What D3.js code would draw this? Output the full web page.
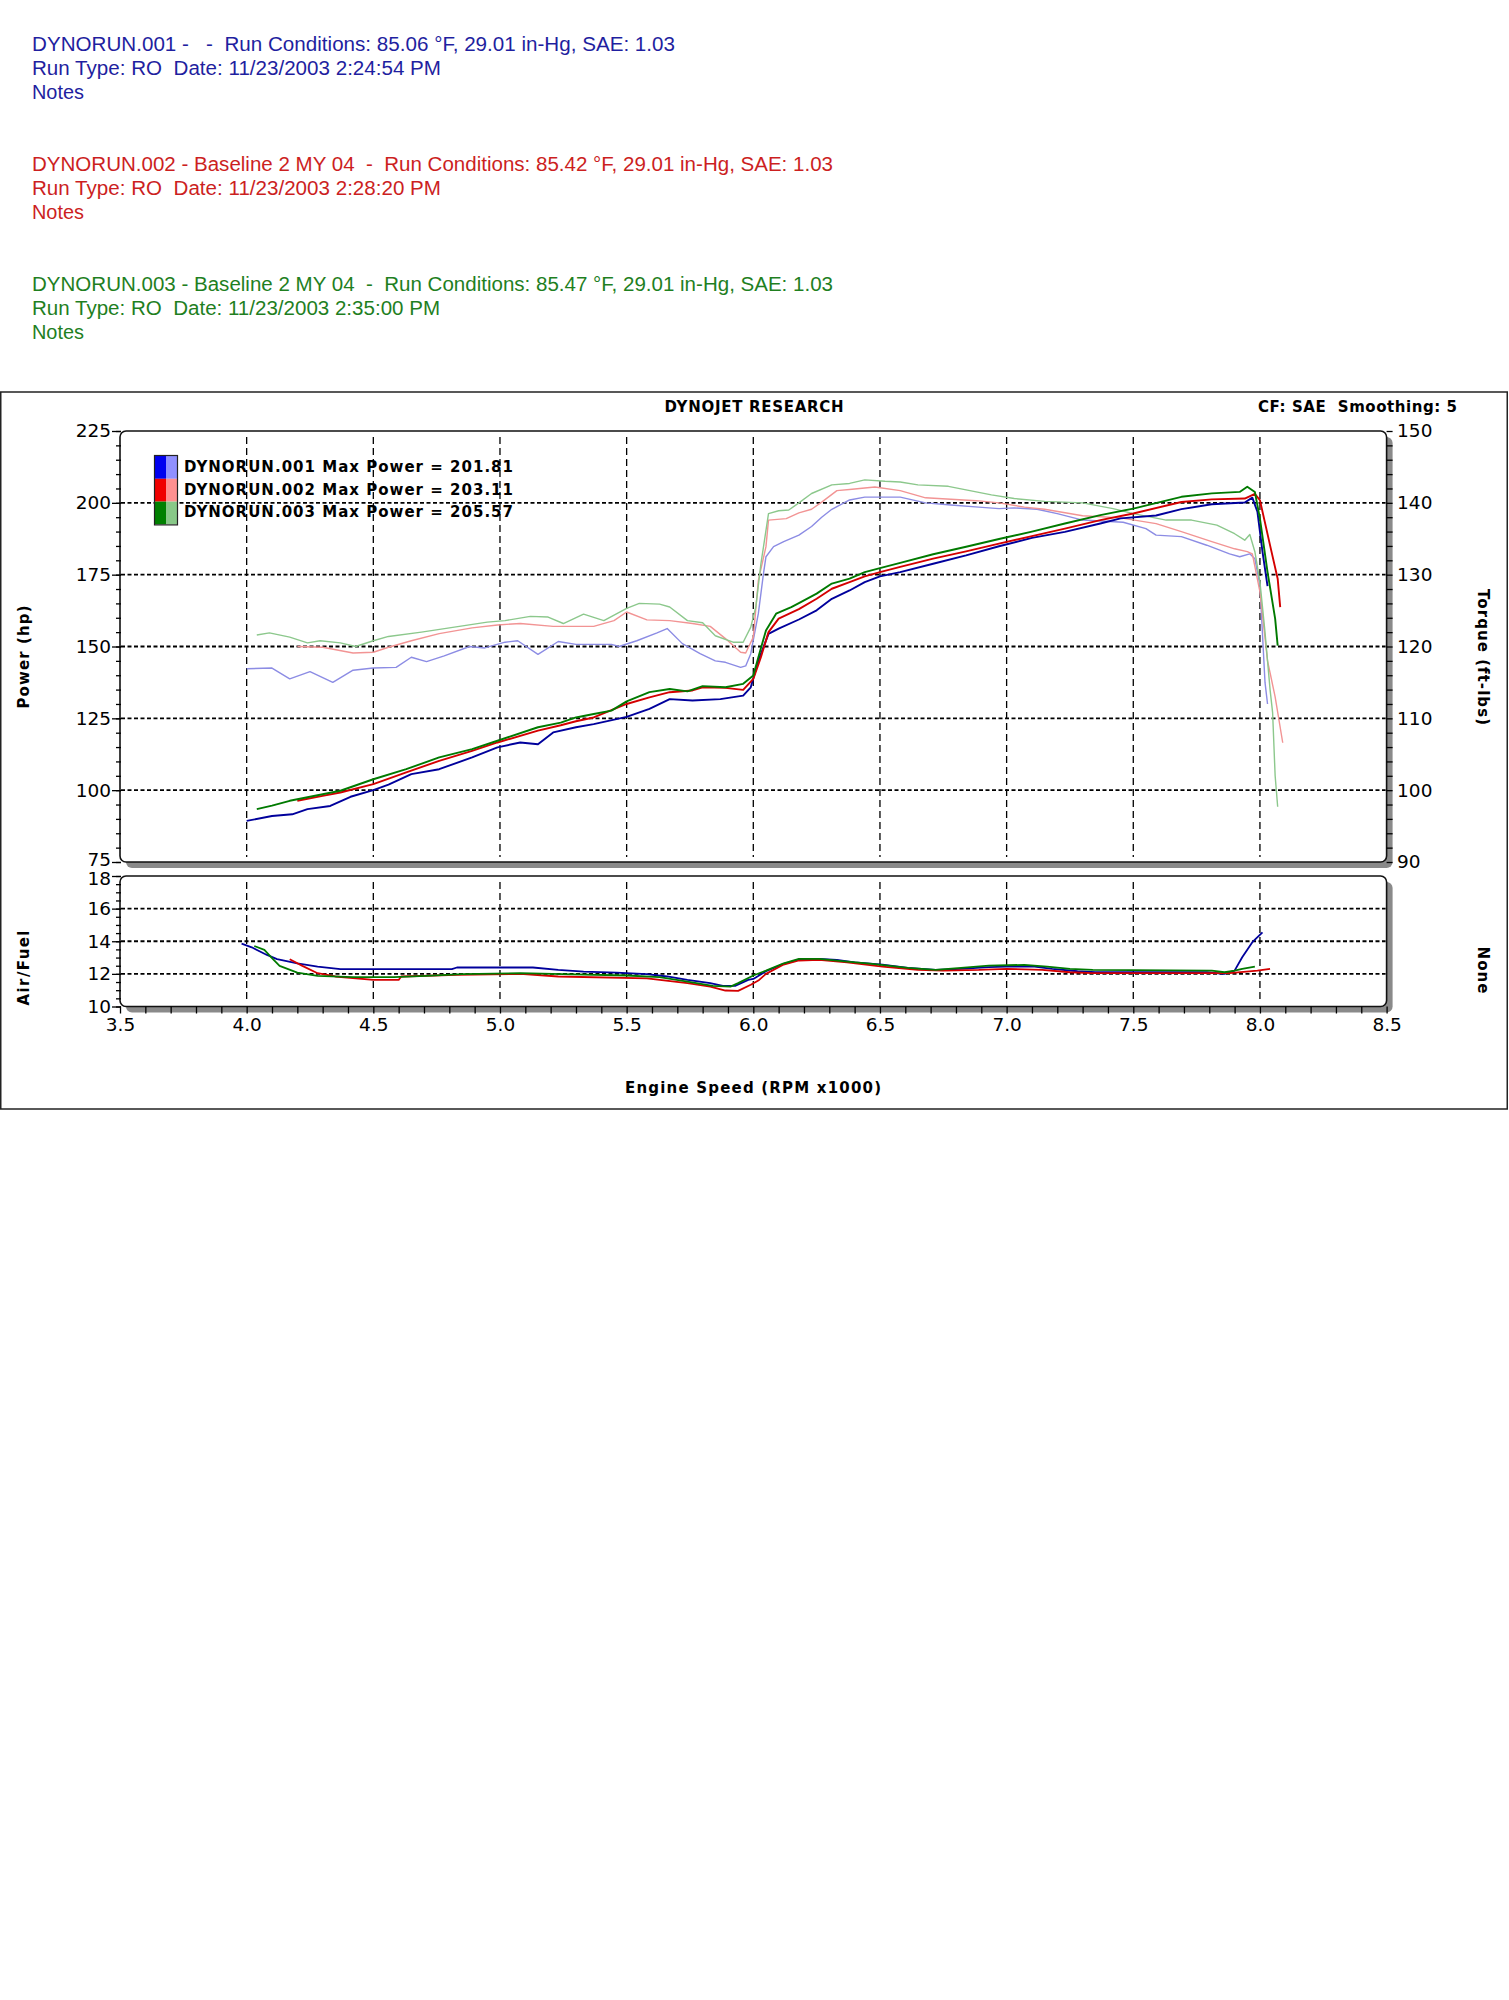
<!DOCTYPE html>
<html>
<head>
<meta charset="utf-8">
<script src="https://cdn.jsdelivr.net/npm/d3@7"></script>
<style>
  body { margin: 0; background: #fff; }
  svg text { white-space: pre; }
</style>
</head>
<body>
<script>
// run data: [rpm x1000, value]
const runNames = ['DYNORUN.001', 'DYNORUN.002', 'DYNORUN.003'];
const maxPower = ['201.81', '203.11', '205.57'];

const headerLines = [
  ['DYNORUN.001 -   -  Run Conditions: 85.06 °F, 29.01 in-Hg, SAE: 1.03', 'Run Type: RO  Date: 11/23/2003 2:24:54 PM', 'Notes'],
  ['DYNORUN.002 - Baseline 2 MY 04  -  Run Conditions: 85.42 °F, 29.01 in-Hg, SAE: 1.03', 'Run Type: RO  Date: 11/23/2003 2:28:20 PM', 'Notes'],
  ['DYNORUN.003 - Baseline 2 MY 04  -  Run Conditions: 85.47 °F, 29.01 in-Hg, SAE: 1.03', 'Run Type: RO  Date: 11/23/2003 2:35:00 PM', 'Notes'],
];

const rpmTicks = [3.5, 4.0, 4.5, 5.0, 5.5, 6.0, 6.5, 7.0, 7.5, 8.0, 8.5];
const powerTicks = [75, 100, 125, 150, 175, 200, 225];
const torqueTicks = [90, 100, 110, 120, 130, 140, 150];
const afrTicks = [10, 12, 14, 16, 18];

const run1Power = [[4.00,89.3],[4.10,91.0],[4.18,91.6],[4.24,93.4],[4.33,94.5],[4.41,97.7],[4.50,100.0],[4.56,101.9],[4.65,105.6],[4.76,107.3],[4.89,111.4],[4.99,114.9],[5.08,116.6],[5.15,116.0],[5.21,120.1],[5.30,121.9],[5.37,123.0],[5.50,125.5],[5.59,128.3],[5.67,131.7],[5.76,131.2],[5.87,131.7],[5.96,132.9],[5.99,135.8],[6.02,145.1],[6.06,154.4],[6.10,156.2],[6.18,159.4],[6.25,162.6],[6.31,166.6],[6.38,169.5],[6.44,172.4],[6.50,174.4],[6.58,175.9],[6.71,178.8],[6.84,181.7],[6.97,184.9],[7.10,187.8],[7.23,189.9],[7.37,192.8],[7.45,194.6],[7.59,195.6],[7.69,197.8],[7.81,199.5],[7.94,200.1],[7.97,201.8],[7.99,196.9],[8.01,183.0],[8.03,171.0]];
const run2Power = [[4.20,96.3],[4.30,98.0],[4.37,99.2],[4.50,102.1],[4.63,106.2],[4.76,110.2],[4.89,113.7],[4.99,116.6],[5.15,120.7],[5.24,122.6],[5.30,124.0],[5.37,125.3],[5.50,130.0],[5.59,132.3],[5.67,134.1],[5.76,134.7],[5.80,135.8],[5.89,135.6],[5.96,134.9],[6.00,138.7],[6.03,146.3],[6.06,155.0],[6.10,159.7],[6.18,163.0],[6.25,166.6],[6.31,170.1],[6.38,172.4],[6.44,174.4],[6.50,175.9],[6.58,177.7],[6.71,180.6],[6.84,183.1],[6.97,185.8],[7.10,188.4],[7.23,191.0],[7.37,194.0],[7.50,196.3],[7.69,200.3],[7.81,201.2],[7.94,201.5],[7.98,203.1],[8.00,200.9],[8.04,185.2],[8.07,173.6],[8.08,163.7]];
const run3Power = [[4.04,93.4],[4.10,94.6],[4.17,96.3],[4.37,99.8],[4.50,103.8],[4.63,107.3],[4.76,111.4],[4.89,114.3],[4.99,117.2],[5.15,121.9],[5.24,123.5],[5.30,125.3],[5.37,126.5],[5.44,127.7],[5.50,130.9],[5.59,134.1],[5.67,135.2],[5.74,134.4],[5.80,136.2],[5.89,135.8],[5.96,137.0],[6.00,139.9],[6.02,146.3],[6.05,155.6],[6.09,161.4],[6.15,163.7],[6.18,165.1],[6.25,168.4],[6.31,171.9],[6.38,173.6],[6.44,175.9],[6.50,177.3],[6.58,179.1],[6.71,182.1],[6.84,184.7],[6.97,187.4],[7.10,190.0],[7.23,192.8],[7.37,195.7],[7.50,198.0],[7.69,202.1],[7.81,203.3],[7.92,203.8],[7.95,205.6],[7.98,203.8],[8.00,194.5],[8.03,175.9],[8.06,159.7],[8.07,150.3]];

const run1Torque = [[4.00,116.9],[4.10,117.0],[4.17,115.5],[4.25,116.5],[4.34,115.0],[4.42,116.7],[4.50,117.0],[4.59,117.1],[4.65,118.5],[4.71,117.9],[4.78,118.7],[4.88,120.0],[4.94,119.8],[5.02,120.6],[5.07,120.8],[5.15,118.9],[5.23,120.7],[5.30,120.3],[5.44,120.3],[5.47,120.0],[5.54,120.8],[5.62,121.9],[5.66,122.5],[5.72,120.4],[5.79,119.0],[5.85,118.0],[5.89,117.8],[5.95,117.1],[5.97,117.3],[5.99,119.0],[6.02,124.6],[6.04,130.1],[6.05,132.5],[6.08,133.9],[6.12,134.6],[6.18,135.5],[6.23,136.7],[6.27,138.0],[6.31,139.1],[6.38,140.4],[6.44,140.8],[6.58,140.8],[6.68,140.0],[6.78,139.7],[6.89,139.4],[6.97,139.2],[7.03,139.3],[7.12,139.1],[7.20,138.5],[7.30,137.6],[7.46,137.3],[7.55,136.4],[7.59,135.5],[7.69,135.3],[7.79,134.1],[7.88,132.9],[7.92,132.5],[7.96,132.9],[7.98,132.2],[8.00,128.5],[8.02,115.0],[8.03,112.0]];
const run2Torque = [[4.20,120.0],[4.30,119.9],[4.42,119.1],[4.50,119.2],[4.56,119.9],[4.65,120.8],[4.76,121.8],[4.89,122.6],[4.99,123.0],[5.08,123.2],[5.21,122.8],[5.30,122.8],[5.37,122.8],[5.45,123.6],[5.50,124.8],[5.58,123.7],[5.67,123.6],[5.76,123.2],[5.83,122.8],[5.89,121.1],[5.95,119.2],[5.97,119.1],[6.00,121.3],[6.02,129.2],[6.05,133.9],[6.06,137.6],[6.13,137.8],[6.18,138.6],[6.23,139.1],[6.27,140.1],[6.33,141.7],[6.39,141.9],[6.48,142.2],[6.58,141.7],[6.68,140.7],[6.78,140.5],[6.88,140.3],[6.97,140.0],[7.07,139.4],[7.15,139.1],[7.30,138.2],[7.45,137.9],[7.59,137.1],[7.69,136.0],[7.81,134.6],[7.90,133.6],[7.95,133.2],[7.97,132.9],[8.00,127.6],[8.03,118.0],[8.06,113.0],[8.09,106.6]];
const run3Torque = [[4.04,121.6],[4.09,121.9],[4.17,121.3],[4.24,120.5],[4.29,120.8],[4.37,120.5],[4.43,120.0],[4.50,120.8],[4.56,121.4],[4.69,122.0],[4.82,122.7],[4.95,123.4],[5.02,123.6],[5.12,124.2],[5.19,124.1],[5.25,123.2],[5.33,124.5],[5.41,123.6],[5.50,125.3],[5.55,126.0],[5.63,125.9],[5.67,125.5],[5.74,123.6],[5.80,123.3],[5.85,121.5],[5.92,120.6],[5.96,120.6],[5.99,122.7],[6.01,125.5],[6.03,131.5],[6.06,138.5],[6.10,138.9],[6.14,139.0],[6.18,140.0],[6.23,141.3],[6.31,142.5],[6.38,142.7],[6.44,143.2],[6.52,143.0],[6.58,142.9],[6.65,142.5],[6.77,142.3],[6.84,141.8],[6.94,141.1],[7.03,140.6],[7.15,140.2],[7.30,140.0],[7.42,139.2],[7.50,138.5],[7.63,137.6],[7.73,137.6],[7.83,136.9],[7.90,135.7],[7.94,134.8],[7.96,135.6],[7.98,133.2],[8.00,129.0],[8.02,122.0],[8.04,114.0],[8.05,110.8],[8.06,102.0],[8.07,97.7]];

const run1Afr = [[3.98,13.85],[4.02,13.63],[4.08,13.16],[4.12,12.90],[4.20,12.65],[4.28,12.45],[4.37,12.29],[4.81,12.29],[4.83,12.39],[5.13,12.39],[5.23,12.24],[5.33,12.14],[5.46,12.08],[5.58,11.98],[5.66,11.84],[5.74,11.63],[5.83,11.43],[5.88,11.27],[5.93,11.27],[5.98,11.63],[6.00,11.69],[6.05,12.16],[6.12,12.61],[6.18,12.88],[6.26,12.92],[6.33,12.86],[6.40,12.71],[6.51,12.57],[6.61,12.37],[6.72,12.24],[6.82,12.31],[6.93,12.41],[7.00,12.45],[7.11,12.45],[7.18,12.31],[7.28,12.16],[7.35,12.10],[7.79,12.10],[7.86,12.00],[7.90,12.20],[7.93,13.02],[7.97,13.94],[8.01,14.55]];
const run2Afr = [[4.17,12.90],[4.22,12.49],[4.28,12.04],[4.35,11.84],[4.50,11.63],[4.60,11.63],[4.61,11.84],[4.83,11.94],[5.08,12.00],[5.23,11.84],[5.58,11.73],[5.74,11.43],[5.83,11.22],[5.89,10.98],[5.94,10.96],[5.99,11.33],[6.02,11.59],[6.05,12.00],[6.12,12.57],[6.18,12.82],[6.26,12.86],[6.37,12.71],[6.51,12.45],[6.65,12.24],[6.75,12.20],[6.89,12.24],[7.00,12.31],[7.14,12.24],[7.25,12.10],[7.34,12.04],[7.88,12.04],[7.99,12.20],[8.04,12.31]];
const run3Afr = [[4.03,13.71],[4.07,13.47],[4.10,12.96],[4.13,12.49],[4.20,12.08],[4.28,11.88],[4.42,11.80],[4.58,11.80],[4.71,11.88],[4.85,11.98],[5.08,12.04],[5.25,11.98],[5.50,11.90],[5.63,11.80],[5.74,11.53],[5.84,11.27],[5.91,11.22],[5.94,11.43],[6.00,11.90],[6.05,12.20],[6.12,12.65],[6.18,12.92],[6.26,12.92],[6.35,12.78],[6.47,12.61],[6.61,12.37],[6.72,12.24],[6.82,12.37],[6.93,12.51],[7.07,12.55],[7.16,12.45],[7.25,12.31],[7.34,12.24],[7.81,12.20],[7.86,12.10],[7.90,12.20],[7.93,12.31],[7.98,12.45]];

// colours per run
const headerColors = ['#1f1fa0', '#cc1f1f', '#1f7f1f'];
const powerColors = ['#00009c', '#d40000', '#007a00'];
const torqueColors = ['#8c8ce4', '#f29494', '#8cc88c'];
const swatchDark = ['#0000f0', '#f00000', '#008000'];
const swatchLight = ['#9090ff', '#ff9090', '#88c888'];

const svg = d3.select('body').append('svg')
  .attr('width', 1509)
  .attr('height', 2000);

const chartFont = 'DejaVu Sans, Verdana, sans-serif';
const tickSize = 18.5;

// header block above the chart
const headerBase = [50.7, 170.7, 290.7];
const headerWidths = [[643, 409, 52], [801, 409, 52], [801, 408, 52]];
headerLines.forEach((lines, r) => {
  lines.forEach((txt, i) => {
    svg.append('text')
      .attr('x', 32)
      .attr('y', headerBase[r] + i * 24.2)
      .attr('font-family', 'Liberation Sans, Arial, sans-serif')
      .attr('font-size', 19.5)
      .attr('fill', headerColors[r])
      .attr('textLength', headerWidths[r][i])
      .attr('lengthAdjust', 'spacingAndGlyphs')
      .text(txt);
  });
});

// outer frame
svg.append('rect')
  .attr('x', 0.75).attr('y', 392)
  .attr('width', 1506.5).attr('height', 717)
  .attr('fill', 'none').attr('stroke', '#222').attr('stroke-width', 1.5);

// scales
const x = d3.scaleLinear().domain([3.5, 8.5]).range([120, 1386.6]);
const yP = d3.scaleLinear().domain([75, 225]).range([862, 431]);
const yT = d3.scaleLinear().domain([90, 150]).range([862, 431]);
const yA = d3.scaleLinear().domain([10, 18]).range([1006.5, 876]);

// panel boxes with grey drop shadow
function panel(y0, y1) {
  const w = x(8.5) - x(3.5);
  svg.append('rect')
    .attr('x', x(3.5) + 6).attr('y', y0 + 6)
    .attr('width', w).attr('height', y1 - y0)
    .attr('rx', 6).attr('fill', '#8a8a8a');
  svg.append('rect')
    .attr('x', x(3.5)).attr('y', y0)
    .attr('width', w).attr('height', y1 - y0)
    .attr('rx', 6).attr('fill', '#fff')
    .attr('stroke', '#111').attr('stroke-width', 1.6);
}
panel(yP(225), yP(75));
panel(yA(18), yA(10));

// grid
const gridRpm = rpmTicks.filter(d => d > 3.5 && d < 8.5);
const grid = svg.append('g').attr('class', 'grid');
[[yP(225) + 6, yP(75) - 5], [yA(18) + 6, yA(10) - 4]].forEach(([a, b]) => {
  grid.selectAll(null)
    .data(gridRpm)
    .enter()
    .append('line')
    .attr('x1', d => x(d)).attr('x2', d => x(d))
    .attr('y1', a).attr('y2', b)
    .attr('stroke', '#000').attr('stroke-width', 1.3)
    .attr('stroke-dasharray', '7,4');
});
grid.selectAll(null)
  .data(powerTicks.filter(d => d > 75 && d < 225))
  .enter()
  .append('line')
  .attr('x1', x(3.5) + 1).attr('x2', x(8.5) - 1)
  .attr('y1', d => yP(d)).attr('y2', d => yP(d))
  .attr('stroke', '#000').attr('stroke-width', 1.8)
  .attr('stroke-dasharray', '4,2.5');
grid.selectAll(null)
  .data(afrTicks.filter(d => d > 10 && d < 18))
  .enter()
  .append('line')
  .attr('x1', x(3.5) + 1).attr('x2', x(8.5) - 1)
  .attr('y1', d => yA(d)).attr('y2', d => yA(d))
  .attr('stroke', '#000').attr('stroke-width', 1.8)
  .attr('stroke-dasharray', '4,2.5');

// axes
function styleAxis(g) {
  g.select('.domain').remove();
  g.attr('font-family', chartFont).attr('font-size', tickSize);
  g.selectAll('line').attr('stroke', '#000').attr('stroke-width', 1.3);
  g.selectAll('text').attr('fill', '#000');
}

const leftX = x(3.5) + 1;
svg.append('g')
  .attr('transform', `translate(${leftX},0)`)
  .call(d3.axisLeft(yP).tickValues(d3.range(75, 226, 5)).tickSize(5).tickFormat(''))
  .call(styleAxis);
svg.append('g')
  .attr('transform', `translate(${leftX},0)`)
  .call(d3.axisLeft(yP).tickValues(powerTicks).tickSize(9).tickPadding(1))
  .call(styleAxis)
  .call(g => g.selectAll('text').filter(d => d === 75).attr('y', -2.5));

svg.append('g')
  .attr('transform', `translate(${x(8.5)},0)`)
  .call(d3.axisRight(yT).tickValues(d3.range(90, 151, 2)).tickSize(6).tickFormat(''))
  .call(styleAxis);
svg.append('g')
  .attr('transform', `translate(${x(8.5)},0)`)
  .call(d3.axisRight(yT).tickValues(torqueTicks).tickSize(0).tickPadding(10.5))
  .call(styleAxis);

svg.append('g')
  .attr('transform', `translate(${leftX},0)`)
  .call(d3.axisLeft(yA).tickValues(d3.range(10, 18.01, 0.5)).tickSize(5).tickFormat(''))
  .call(styleAxis);
svg.append('g')
  .attr('transform', `translate(${leftX},0)`)
  .call(d3.axisLeft(yA).tickValues(afrTicks).tickSize(9).tickPadding(1))
  .call(styleAxis)
  .call(g => g.selectAll('text').filter(d => d === 18).attr('y', 3));

svg.append('g')
  .attr('transform', `translate(0,${yA(10)})`)
  .call(d3.axisBottom(x).tickValues(d3.range(3.5, 8.51, 0.1)).tickSize(7).tickFormat(''))
  .call(styleAxis);
svg.append('g')
  .attr('transform', `translate(0,${yA(10)})`)
  .call(d3.axisBottom(x).tickValues(rpmTicks).tickSize(0).tickPadding(11).tickFormat(d3.format('.1f')))
  .call(styleAxis);

// curves
const powerLine = d3.line().x(d => x(d[0])).y(d => yP(d[1]));
const torqueLine = d3.line().x(d => x(d[0])).y(d => yT(d[1]));
const afrLine = d3.line().x(d => x(d[0])).y(d => yA(d[1]));

const torques = [run1Torque, run2Torque, run3Torque];
const powers = [run1Power, run2Power, run3Power];
const afrs = [run1Afr, run2Afr, run3Afr];

const curves = svg.append('g').attr('fill', 'none').attr('stroke-linejoin', 'round');
curves.selectAll('.torque')
  .data(torques)
  .enter()
  .append('path')
  .attr('class', 'torque')
  .attr('d', torqueLine)
  .attr('stroke', (d, i) => torqueColors[i])
  .attr('stroke-width', 1.4);
curves.selectAll('.power')
  .data(powers)
  .enter()
  .append('path')
  .attr('class', 'power')
  .attr('d', powerLine)
  .attr('stroke', (d, i) => powerColors[i])
  .attr('stroke-width', 1.9);
curves.selectAll('.afr')
  .data(afrs)
  .enter()
  .append('path')
  .attr('class', 'afr')
  .attr('d', afrLine)
  .attr('stroke', (d, i) => powerColors[i])
  .attr('stroke-width', 1.8);

// legend
const legend = svg.append('g');
const swH = 22.8;
runNames.forEach((name, i) => {
  const y0 = 456 + i * swH;
  legend.append('rect')
    .attr('x', 155).attr('y', y0).attr('width', 11).attr('height', swH)
    .attr('fill', swatchDark[i]);
  legend.append('rect')
    .attr('x', 166).attr('y', y0).attr('width', 11).attr('height', swH)
    .attr('fill', swatchLight[i]);
  legend.append('text')
    .attr('x', 184)
    .attr('y', 472.3 + i * 22.2)
    .attr('font-family', chartFont)
    .attr('font-weight', 'bold')
    .attr('font-size', 15)
    .attr('textLength', 329)
    .attr('lengthAdjust', 'spacing')
    .text(`${name} Max Power = ${maxPower[i]}`);
});
legend.append('rect')
  .attr('x', 154.5).attr('y', 455.5).attr('width', 23).attr('height', swH * 3 + 1)
  .attr('fill', 'none').attr('stroke', '#222').attr('stroke-width', 1.2);

// titles
function label(txt, tx, ty, len, rot, size) {
  svg.append('text')
    .attr('transform', `translate(${tx},${ty}) rotate(${rot || 0})`)
    .attr('text-anchor', 'middle')
    .attr('font-family', chartFont)
    .attr('font-weight', 'bold')
    .attr('font-size', size || 15)
    .attr('textLength', len)
    .attr('lengthAdjust', 'spacing')
    .text(txt);
}
label('DYNOJET RESEARCH', 754, 412, 179);
svg.append('text')
  .attr('x', 1258).attr('y', 412)
  .attr('font-family', chartFont)
  .attr('font-weight', 'bold')
  .attr('font-size', 15)
  .attr('textLength', 199)
  .attr('lengthAdjust', 'spacing')
  .text('CF: SAE  Smoothing: 5');
label('Engine Speed (RPM x1000)', 753, 1093, 256);
label('Power (hp)', 29, 657, 103, -90, 15);
label('Air/Fuel', 29, 968, 75, -90, 15);
label('Torque (ft-lbs)', 1478, 657, 136, 90, 15);
label('None', 1478, 970, 47, 90, 15);
</script>
</body>
</html>
